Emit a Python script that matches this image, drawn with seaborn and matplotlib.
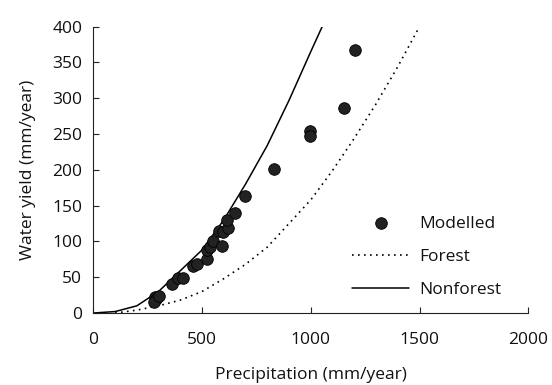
import matplotlib
matplotlib.use("Agg")
import matplotlib.pyplot as plt
import seaborn as sns
import pandas as pd

# Modelled points
mod_precip = [283, 290, 280, 302, 362, 391, 411, 460, 475, 521, 521, 537, 552, 591,
              580, 595, 621, 614, 652, 698, 829, 995, 995, 1151, 1202]
mod_yield = [23, 20, 16, 24, 40, 49, 49, 66, 68, 75, 88, 92, 101, 93,
             115, 113, 119, 130, 139, 164, 201, 254, 247, 286, 367]

# Nonforest curve
nf_precip = [0, 100, 200, 300, 400, 500, 600, 700, 800, 900, 1000, 1060]
nf_yield = [0, 2, 10, 30, 59, 88, 130, 180, 234, 297, 365, 405]

# Forest curve
f_precip = [100, 200, 300, 400, 500, 600, 700, 800, 900, 1000, 1100, 1200, 1300, 1400, 1500, 1510]
f_yield = [0, 4, 10, 18, 30, 48, 68, 92, 125, 158, 199, 244, 292, 344, 400, 406]

x_ticks = [0, 500, 1000, 1500, 2000]
y_ticks = [0, 50, 100, 150, 200, 250, 300, 350, 400]

sns.set_style("ticks")
plt.rcParams['font.family'] = ['Open Sans', 'DejaVu Sans']
plt.rcParams['xtick.direction'] = 'in'
plt.rcParams['ytick.direction'] = 'in'

FS = 12.5

fig = plt.figure(figsize=(5.52, 3.85), dpi=100)
ax = fig.add_axes([0.169, 0.187, 0.788, 0.744])

df_m = pd.DataFrame({"p": mod_precip, "y": mod_yield})
df_nf = pd.DataFrame({"p": nf_precip, "y": nf_yield})
df_f = pd.DataFrame({"p": f_precip, "y": f_yield})

sns.lineplot(data=df_nf, x="p", y="y", ax=ax, color="black", lw=1.1, label="Nonforest", sort=False)
sns.lineplot(data=df_f, x="p", y="y", ax=ax, color="black", lw=1.2, ls=(0, (1, 2.6)), label="Forest", sort=False)
sns.scatterplot(data=df_m, x="p", y="y", ax=ax, color="#222222", edgecolor="black",
                linewidth=0.6, s=70, label="Modelled", zorder=3)

ax.set_xlim(0, 2000)
ax.set_ylim(0, 400)
ax.set_xticks(x_ticks)
ax.set_yticks(y_ticks)
ax.tick_params(labelsize=FS, length=4, width=0.8, color="#222222", labelcolor="#111111")
ax.tick_params(axis="x", pad=14)
ax.tick_params(axis="y", pad=8)
for s in ["top", "right"]:
    ax.spines[s].set_visible(False)
for s in ["left", "bottom"]:
    ax.spines[s].set_linewidth(0.8)
    ax.spines[s].set_color("#222222")

ax.set_xlabel("Precipitation (mm/year)", fontsize=FS, labelpad=13, color="#111111")
ax.set_ylabel("Water yield (mm/year)", fontsize=FS, labelpad=12, color="#111111")

handles, labels = ax.get_legend_handles_labels()
order = [labels.index(n) for n in ["Modelled", "Forest", "Nonforest"]]
ax.legend([handles[i] for i in order], [labels[i] for i in order],
          loc="upper left", bbox_to_anchor=(0.638, 0.44), bbox_transform=fig.transFigure,
          frameon=False, fontsize=FS, handlelength=3.3, handletextpad=0.55,
          labelspacing=0.97, borderpad=0, borderaxespad=0, labelcolor="#111111")

fig.savefig("out.png", dpi=100)
